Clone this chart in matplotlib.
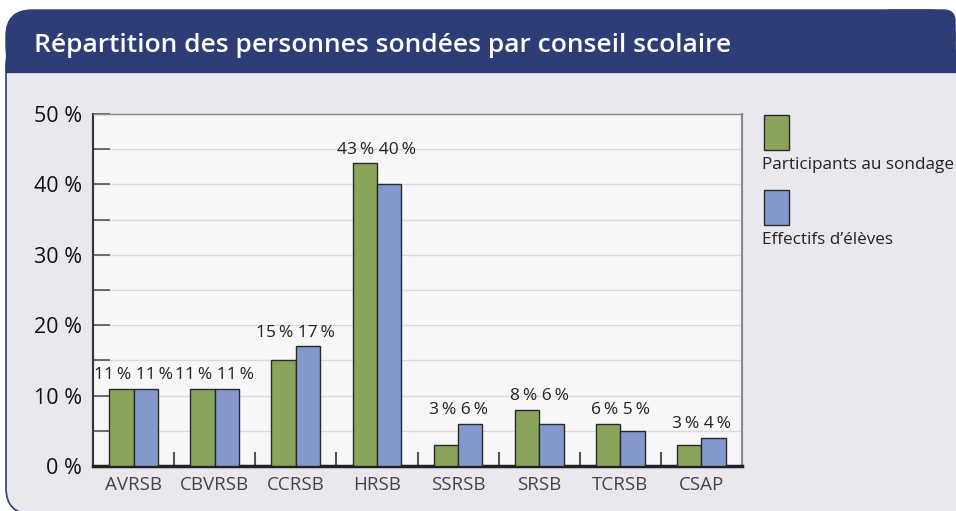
import numpy as np
import matplotlib.pyplot as plt
from matplotlib.patches import FancyBboxPatch, Rectangle

# ============================================================
# DATA
# ============================================================
boards = ["AVRSB", "CBVRSB", "CCRSB", "HRSB", "SSRSB", "SRSB", "TCRSB", "CSAP"]
participants = [11, 11, 15, 43, 3, 8, 6, 3]
students = [11, 11, 17, 40, 6, 6, 5, 4]
yticks = [0, 10, 20, 30, 40, 50]

title = "Répartition des personnes sondées par conseil scolaire"
series_names = ["Participants au sondage", "Effectifs d\u2019élèves"]

green = "#8AA55B"
blue = "#8598CE"
navy = "#2F3D77"
body = "#E9E8EE"
plot_bg = "#F7F7F9"

plt.rcParams['font.family'] = ['Open Sans', 'DejaVu Sans']

fig = plt.figure(figsize=(9.56, 5.11), dpi=100)
fig.patch.set_facecolor("white")

# ============================================================
# PANEL BACKGROUND (pixel coordinates)
# ============================================================
bg = fig.add_axes([0, 0, 1, 1], zorder=0)
bg.set_xlim(0, 956)
bg.set_ylim(511, 0)
bg.axis("off")

# body (bottom edge runs just off the image)
bg.add_patch(FancyBboxPatch((6, 40), 1000, 474,
                            boxstyle="round,pad=0,rounding_size=26",
                            facecolor=body, edgecolor=navy, linewidth=1.2))
# header: large rounded corner on the left, small one on the right
bg.add_patch(FancyBboxPatch((6, 10), 949, 62,
                            boxstyle="round,pad=0,rounding_size=26",
                            facecolor=navy, edgecolor=navy, linewidth=1.0))
bg.add_patch(FancyBboxPatch((880, 10), 75, 62,
                            boxstyle="round,pad=0,rounding_size=11",
                            facecolor=navy, edgecolor=navy, linewidth=1.0))
bg.add_patch(Rectangle((6, 50), 949, 22, facecolor=navy, edgecolor=navy,
                       linewidth=1.0))
bg.text(34, 45, title, color="white", fontsize=19, fontweight="semibold",
        va="center", ha="left")

# ============================================================
# BAR CHART
# ============================================================
ax = fig.add_axes([93/956, 45/511, (742-93)/956, (466-114)/511], zorder=1)
ax.set_facecolor(plot_bg)

x = np.arange(len(boards))
w = 0.3
ax.bar(x - w/2, participants, w, color=green, edgecolor="#2a2a2a",
       linewidth=1.0, zorder=3)
ax.bar(x + w/2, students, w, color=blue, edgecolor="#2a2a2a",
       linewidth=1.0, zorder=3)

for i in range(len(boards)):
    top = max(participants[i], students[i])
    ax.annotate(f"{participants[i]}\u2009% {students[i]}\u2009%", (x[i], top),
                xytext=(0, 4), textcoords="offset points",
                ha="center", va="bottom", fontsize=12.5, color="#222222")

ax.set_xlim(-0.5, len(boards) - 0.5)
ax.set_ylim(0, 50)
ax.set_yticks(yticks)
ax.set_yticklabels([f"{v} %" for v in yticks], fontsize=15.5, color="#111111")
ax.set_yticks(np.arange(5, 50, 10), minor=True)
ax.yaxis.grid(True, which="both", color="#D9D9DE", linewidth=1.0, zorder=0)
ax.tick_params(axis="y", which="both", direction="in", length=12,
               width=1.2, color="#555555", pad=8)

ax.set_xticks(x)
ax.set_xticklabels(boards, fontsize=13.5, color="#444444")
ax.set_xticks(np.arange(0.5, len(boards) - 0.5, 1), minor=True)
ax.tick_params(axis="x", which="major", length=0, pad=7)
ax.tick_params(axis="x", which="minor", direction="in", length=10,
               width=1.5, color="#555555")

ax.spines["bottom"].set_linewidth(2.5)
ax.spines["bottom"].set_color("#222222")
ax.spines["left"].set_linewidth(1.5)
ax.spines["left"].set_color("#333333")
ax.spines["right"].set_color("#888888")
ax.spines["right"].set_linewidth(1.5)
ax.spines["top"].set_color("#888888")
ax.spines["top"].set_linewidth(1.0)

# ============================================================
# LEGEND (drawn as patches + text)
# ============================================================
for (py, col, name) in [(115, green, series_names[0]), (190, blue, series_names[1])]:
    bg.add_patch(Rectangle((764, py), 25, 35, facecolor=col,
                           edgecolor="#2a2a2a", linewidth=1.0))
    bg.text(762, py + 50, name, fontsize=12.3, color="#222222",
            va="center", ha="left")

fig.savefig("out.png", dpi=100)
